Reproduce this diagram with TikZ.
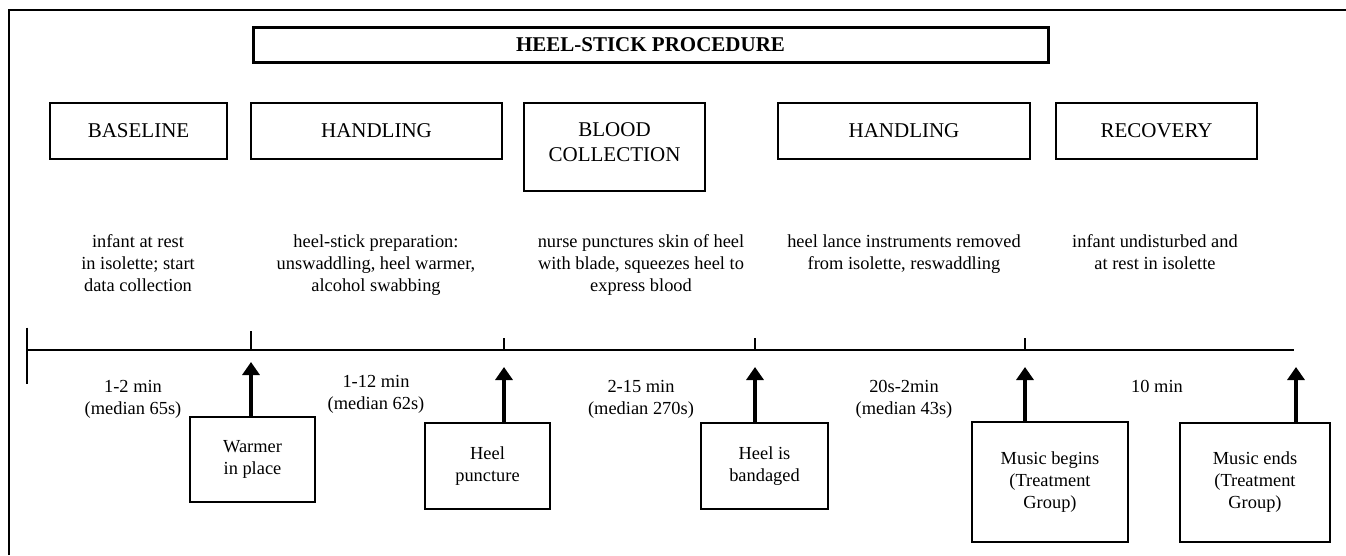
\documentclass[tikz,border=0pt]{standalone}
\usepackage{fontspec}
\setmainfont{Liberation Serif}
\usetikzlibrary{arrows.meta}
\begin{document}
\begin{tikzpicture}[x=1pt,y=1pt,
  phase/.style={draw, line width=1.3pt, inner sep=0pt, align=center,
    font=\fontsize{21}{25}\selectfont, minimum height=56pt},
  desc/.style={inner sep=0pt, align=center, anchor=north,
    font=\fontsize{18.4}{22}\selectfont},
  evt/.style={draw, line width=2pt, inner sep=0pt, align=center,
    font=\fontsize{18.4}{22}\selectfont},
  arr/.style={line width=4pt, -{Triangle[length=13pt,width=17pt]}},
  tickline/.style={line width=1.5pt}
]
\useasboundingbox (0,0) rectangle (1346,-555);
% frame
\draw[line width=2.5pt, line join=miter] (9,-555) -- (9,-10) -- (1346,-10);
% title
\node[draw, line width=3pt, inner sep=0pt, minimum width=795pt, minimum height=35pt,
  font=\fontsize{21}{24}\selectfont\bfseries] (title) at (650.5,-44.5) {HEEL-STICK PROCEDURE};
% phases
\node[phase, minimum width=177pt] (base) at (138.5,-131) {BASELINE};
\node[phase, minimum width=251pt] (hand1) at (376.5,-131) {HANDLING};
\node[phase, minimum width=181pt, minimum height=88pt] (blood) at (614.5,-147) {};
\node[inner sep=0pt, align=center, font=\fontsize{21}{25}\selectfont] (bloodtxt) at (614.5,-142.5) {BLOOD\\COLLECTION};
\node[phase, minimum width=252pt] (hand2) at (904,-131) {HANDLING};
\node[phase, minimum width=201pt] (recov) at (1156.5,-131) {RECOVERY};
% descriptions
\node[desc] (d1) at (138,-234.5) {infant at rest\\in isolette; start\\data collection};
\node[desc] (d2) at (376,-234.5) {heel-stick preparation:\\unswaddling, heel warmer,\\alcohol swabbing};
\node[desc] (d3) at (641,-234.5) {nurse punctures skin of heel\\with blade, squeezes heel to\\express blood};
\node[desc] (d4) at (904,-234.5) {heel lance instruments removed\\from isolette, reswaddling};
\node[desc] (d5) at (1155,-234.5) {infant undisturbed and\\at rest in isolette};
% timeline
\coordinate (L0) at (27,-350);
\coordinate (L1) at (1294,-350);
\draw[line width=2pt] (L0) -- (L1);
\coordinate (k1) at (251,-350);
\coordinate (k2) at (504,-350);
\coordinate (k3) at (755,-350);
\coordinate (k4) at (1025,-350);
\draw[tickline] ([yshift=22.5pt]L0) -- ([yshift=-34pt]L0);
\draw[tickline] (k1) -- ++(0,19);
\draw[tickline] (k2) -- ++(0,12);
\draw[tickline] (k3) -- ++(0,12);
\draw[tickline] (k4) -- ++(0,12);
% durations
\node[desc] (t1) at (133,-380) {1-2 min\\(median 65s)};
\node[desc] (t2) at (376,-375) {1-12 min\\(median 62s)};
\node[desc] (t3) at (641,-380) {2-15 min\\(median 270s)};
\node[desc] (t4) at (904,-380) {20s-2min\\(median 43s)};
\node[desc] (t5) at (1157,-380) {10 min};
% events
\node[evt, minimum width=125pt, minimum height=85pt] (warm) at (252.5,-459.5) {Warmer\\in place};
\node[evt, minimum width=125pt, minimum height=86pt] (heel) at (487.5,-466) {Heel\\puncture};
\node[evt, minimum width=127pt, minimum height=86pt] (band) at (764.5,-466) {Heel is\\bandaged};
\node[evt, minimum width=156pt, minimum height=120pt] (mbeg) at (1050,-482) {Music begins\\(Treatment\\Group)};
\node[evt, minimum width=150pt, minimum height=119pt] (mend) at (1255,-482.5) {Music ends\\(Treatment\\Group)};
% arrows
\coordinate (a1) at (251,-362);
\coordinate (a2) at (504,-367);
\coordinate (a3) at (755,-367);
\coordinate (a4) at (1025,-367);
\coordinate (a5) at (1296,-367);
\draw[arr] (a1 |- warm.north) -- (a1);
\draw[arr] (a2 |- heel.north) -- (a2);
\draw[arr] (a3 |- band.north) -- (a3);
\draw[arr] (a4 |- mbeg.north) -- (a4);
\draw[arr] (a5 |- mend.north) -- (a5);
\end{tikzpicture}
\end{document}
